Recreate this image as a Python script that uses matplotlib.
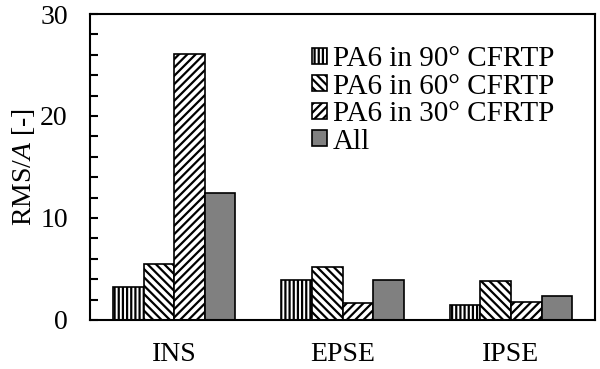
import matplotlib
matplotlib.use("Agg")
import matplotlib.pyplot as plt
import numpy as np

plt.rcParams['font.family'] = ['Liberation Serif', 'DejaVu Serif']
plt.rcParams['mathtext.fontset'] = 'custom'
plt.rcParams['mathtext.rm'] = 'Liberation Serif'
plt.rcParams['mathtext.it'] = 'Liberation Serif:italic'
plt.rcParams['hatch.linewidth'] = 1.6

categories = ["INS", "EPSE", "IPSE"]
series = ["PA6 in 90° CFRTP", "PA6 in 60° CFRTP", "PA6 in 30° CFRTP", "All"]
pa6_90 = [3.25, 3.9, 1.5]
pa6_60 = [5.45, 5.15, 3.85]
pa6_30 = [26.1, 1.7, 1.8]
all_vals = [12.4, 3.95, 2.35]

values = [pa6_90, pa6_60, pa6_30, all_vals]
hatches = ['||||', '\\\\\\\\', '////', '']
faces = ['white', 'white', 'white', '#808080']

fig = plt.figure(figsize=(6, 3.69), dpi=100)
ax = fig.add_axes([0.15, 0.133, 0.842, 0.829])

x = np.arange(len(categories))
w = 0.182
for i, (vals, h, fc, lab) in enumerate(zip(values, hatches, faces, series)):
    ax.bar(x + (i - 1.5) * w, vals, w, color=fc, edgecolor='black',
           hatch=h, linewidth=1.2, label=lab)

ax.set_xlim(-0.5, 2.5)
ax.set_ylim(0, 30)
ax.set_yticks([0, 10, 20, 30])
ax.set_yticks(np.arange(0, 31, 2), minor=True)
ax.set_xticks(x)
ax.set_xticklabels(categories)
ax.tick_params(axis='y', which='both', direction='in', length=6, width=1.5,
               labelsize=20, pad=16)
ax.tick_params(axis='x', length=0, labelsize=20, pad=16)
for s in ax.spines.values():
    s.set_linewidth(1.5)

ax.set_ylabel("RMS/$\\it{A}$ [-]", fontsize=20, labelpad=2)

ax.legend(loc='upper left', bbox_to_anchor=(0.44, 0.895), frameon=False,
          fontsize=21, handlelength=0.5, handleheight=0.45, handletextpad=0.2,
          labelspacing=0.05, borderaxespad=0, borderpad=0)

fig.savefig("out.png", dpi=100)
